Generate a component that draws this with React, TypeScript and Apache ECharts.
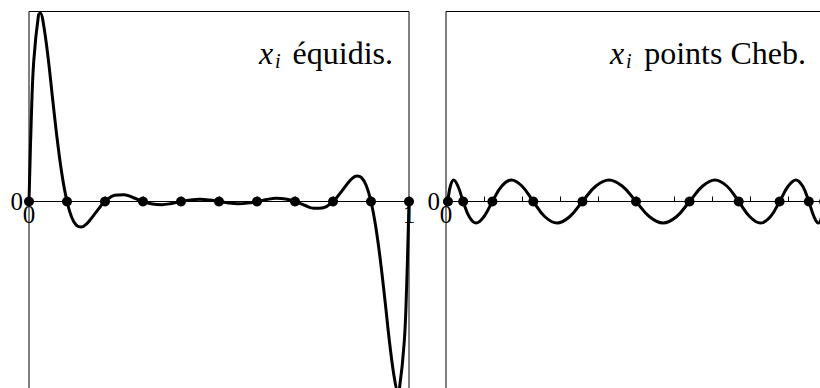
import React, { useEffect, useRef } from "react";
import * as echarts from "echarts";

// Equidistant nodes: nodal polynomial prod(x - x_i), values in units of 1e-6
const equiX = [0, 0.00625, 0.0125, 0.025, 0.03, 0.0375, 0.05, 0.0625, 0.075, 0.0875, 0.1, 0.1125, 0.125, 0.1375, 0.15, 0.1625, 0.175, 0.1875, 0.2, 0.225, 0.25, 0.275, 0.3, 0.325, 0.35, 0.375, 0.4, 0.425, 0.45, 0.475, 0.5, 0.525, 0.55, 0.575, 0.6, 0.625, 0.65, 0.675, 0.7, 0.725, 0.75, 0.775, 0.8, 0.8125, 0.825, 0.8375, 0.85, 0.8625, 0.875, 0.8875, 0.9, 0.9125, 0.925, 0.9375, 0.95, 0.9625, 0.97, 0.975, 0.9875, 0.99375, 1];
const equiY = [0, 1.8829, 3.1048, 4.1246, 4.1597, 3.9539, 3.1969, 2.2424, 1.3223, 0.5589, 0, -0.3537, -0.5288, -0.5648, -0.5048, -0.3887, -0.2502, -0.1148, 0, 0.136, 0.1485, 0.0834, 0, -0.057, -0.0693, -0.0431, 0, 0.0359, 0.048, 0.0328, 0, -0.0328, -0.048, -0.0359, 0, 0.0431, 0.0693, 0.057, 0, -0.0834, -0.1485, -0.136, 0, 0.1148, 0.2502, 0.3887, 0.5048, 0.5648, 0.5288, 0.3537, 0, -0.5589, -1.3223, -2.2424, -3.1969, -3.9539, -4.1597, -4.1246, -3.1048, -1.8829, 0];
const equiNodes = [0, 0.1, 0.2, 0.3, 0.4, 0.5, 0.6, 0.7, 0.8, 0.9, 1];

// Chebyshev nodes: nodal polynomial, values in units of 1e-6
const chebX = [0.00509, 0.01143, 0.02026, 0.03153, 0.04519, 0.06116, 0.07938, 0.09973, 0.12213, 0.14645, 0.17257, 0.20036, 0.22968, 0.26038, 0.29229, 0.32527, 0.35914, 0.39372, 0.42885, 0.46433, 0.5, 0.53567, 0.57116, 0.60629, 0.64087, 0.67473, 0.70771, 0.73962, 0.77032, 0.79964, 0.82743, 0.85356, 0.87788, 0.90027, 0.92063, 0.93884, 0.95482, 0.96848, 0.97975, 0.98858, 0.99491, 0.99873, 1];
const chebY = [0, 0.3371, 0.4768, 0.3371, 0, -0.3371, -0.4768, -0.3371, 0, 0.3371, 0.4768, 0.3371, 0, -0.3371, -0.4768, -0.3371, 0, 0.3371, 0.4768, 0.3371, 0, -0.3371, -0.4768, -0.3371, 0, 0.3371, 0.4768, 0.3371, 0, -0.3371, -0.4768, -0.3371, 0, 0.3371, 0.4768, 0.3371, 0, -0.3371, -0.4768, -0.3371, 0, 0.3371, 0.4768];
const chebNodes = [0.00509, 0.04519, 0.12213, 0.22968, 0.35914, 0.5, 0.64087, 0.77032, 0.87788, 0.95482, 0.99491];

const yMin = -4.2;
const yMax = 4.2;
const xTicks = 0.1;

const FONT = "Liberation Serif, DejaVu Serif, serif";
const GRID_H = 380;

export default function App() {
  const ref = useRef<HTMLDivElement>(null);
  useEffect(() => {
    if (!ref.current) return;
    const chart = echarts.init(ref.current, null, { renderer: "svg" });
    const xAxisBase = (gridIndex: number, showOne: boolean) => ({
      type: "value" as const,
      gridIndex,
      min: 0,
      max: 1,
      interval: xTicks,
      position: "bottom" as const,
      offset: -GRID_H / 2,
      axisLine: { onZero: false, lineStyle: { color: "#000", width: 1 } },
      axisTick: { show: true, inside: true, length: 5, lineStyle: { color: "#000", width: 1 } },
      axisLabel: {
        color: "#000",
        fontSize: 25,
        fontFamily: FONT,
        margin: 0,
        formatter: (v: number) => (Math.abs(v) < 1e-9 ? "0" : showOne && Math.abs(v - 1) < 1e-9 ? "1" : ""),
      },
      splitLine: { show: false },
    });
    const yAxisBase = (gridIndex: number) => ({
      type: "value" as const,
      gridIndex,
      min: yMin,
      max: yMax,
      interval: yMax,
      axisLine: { show: false },
      axisTick: { show: false },
      axisLabel: {
        color: "#000",
        fontSize: 25,
        fontFamily: FONT,
        margin: 6,
        formatter: (v: number) => (Math.abs(v) < 1e-9 ? "0" : ""),
      },
      splitLine: { show: false },
    });
    const lineSeries = (idx: number, xs: number[], ys: number[]) => ({
      type: "line" as const,
      xAxisIndex: idx,
      yAxisIndex: idx,
      data: xs.map((x, i) => [x, ys[i]]),
      showSymbol: false,
      smooth: 0.4,
      clip: false,
      lineStyle: { color: "#000", width: 3 },
      z: 3,
    });
    const nodeSeries = (idx: number, xs: number[]) => ({
      type: "scatter" as const,
      xAxisIndex: idx,
      yAxisIndex: idx,
      data: xs.map((x) => [x, 0]),
      symbol: "circle",
      symbolSize: 10,
      clip: false,
      itemStyle: { color: "#000", opacity: 1 },
      z: 4,
    });
    const titleParts = (xLeft: number, subLeft: number, rightEdge: number, label: string) => [
      {
        type: "text",
        style: { text: "x", x: xLeft, y: 52.5, fontStyle: "italic", fontSize: 32, fontFamily: FONT, fill: "#000", align: "left", verticalAlign: "middle" },
      },
      {
        type: "text",
        style: { text: "i", x: subLeft, y: 61, fontStyle: "italic", fontSize: 20, fontFamily: FONT, fill: "#000", align: "left", verticalAlign: "middle" },
      },
      {
        type: "text",
        style: { text: label, x: rightEdge, y: 52.5, fontSize: 32, fontFamily: FONT, fill: "#000", align: "right", verticalAlign: "middle" },
      },
    ];
    chart.setOption({
      animation: false,
      backgroundColor: "#fff",
      grid: [
        { left: 29, top: 11.5, width: 380, height: GRID_H, show: true, borderColor: "#000", borderWidth: 1, backgroundColor: "transparent", outerBoundsMode: "none", containLabel: false },
        { left: 446, top: 11.5, width: 380, height: GRID_H, show: true, borderColor: "#000", borderWidth: 1, backgroundColor: "transparent", outerBoundsMode: "none", containLabel: false },
      ],
      xAxis: [xAxisBase(0, true), xAxisBase(1, false)],
      yAxis: [yAxisBase(0), yAxisBase(1)],
      series: [
        lineSeries(0, equiX, equiY),
        nodeSeries(0, equiNodes),
        lineSeries(1, chebX, chebY),
        nodeSeries(1, chebNodes),
      ],
      graphic: [
        ...titleParts(259, 275, 393, "équidis."),
        ...titleParts(610, 626, 806, "points Cheb."),
      ],
    });
    return () => chart.dispose();
  }, []);
  return <div ref={ref} style={{ position: "fixed", left: 0, top: 0, width: 820, height: 388 }} />;
}
